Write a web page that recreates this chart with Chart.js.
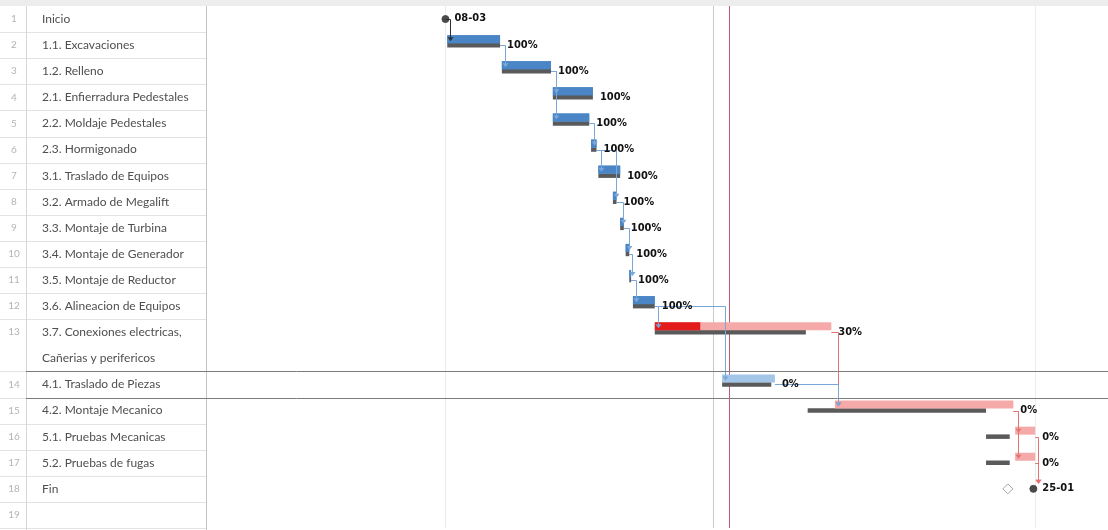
<!DOCTYPE html>
<html>
<head>
<meta charset="utf-8">
<script src="https://cdn.jsdelivr.net/npm/chart.js@4/dist/chart.umd.min.js"></script>
<style>
  html, body { margin: 0; padding: 0; background: #fff; }
  #wrap { width: 1108px; height: 530px; }
</style>
</head>
<body>
<div id="wrap"><canvas id="gantt" width="1108" height="530"></canvas></div>
<script>
// rows of the task table (row 13 wraps onto a second line)
const rowNumbers = ['1','2','3','4','5','6','7','8','9','10','11','12','13','','14','15','16','17','18','19'];
const taskNames = ['Inicio','1.1. Excavaciones','1.2. Relleno','2.1. Enfierradura Pedestales','2.2. Moldaje Pedestales',
  '2.3. Hormigonado','3.1. Traslado de Equipos','3.2. Armado de Megalift','3.3. Montaje de Turbina',
  '3.4. Montaje de Generador','3.5. Montaje de Reductor','3.6. Alineacion de Equipos','3.7. Conexiones electricas,',
  'Cañerias y perifericos','4.1. Traslado de Piezas','4.2. Montaje Mecanico','5.1. Pruebas Mecanicas',
  '5.2. Pruebas de fugas','Fin',''];

// days counted from the project start (08-03)
const startDay    = [null,1,31,59,59,80,84,92,96,99,101,103,115,null,152,214,313,313,null,null];
const endDay      = [null,30,58,81,79,83,96,94,98,101,102,115,212,null,181,312,324,324,null,null];
const doneEnd     = [null,30,58,81,79,83,96,94,98,101,102,115,140,null,null,null,null,null,null,null];
const baseStart   = [null,1,31,59,59,80,84,92,96,99,101,103,115,null,152,199,297,297,null,null];
const baseEnd     = [null,30,58,81,79,83,96,94,98,101,102,115,198,null,179,297,310,310,null,null];
const percentText = [null,'100%','100%','100%','100%','100%','100%','100%','100%','100%','100%','100%','30%',null,'0%','0%','0%','0%',null,null];
const critical    = [false,false,false,false,false,false,false,false,false,false,false,false,true,false,false,true,true,true,true,false];
const milestoneDay   = [0,null,null,null,null,null,null,null,null,null,null,null,null,null,null,null,null,null,323,null];
const milestoneText  = ['08-03',null,null,null,null,null,null,null,null,null,null,null,null,null,null,null,null,null,'25-01',null];
const baseMilestoneDay = [null,null,null,null,null,null,null,null,null,null,null,null,null,null,null,null,null,null,309,null];
const links = [[0,1],[1,2],[2,3],[2,4],[4,5],[5,6],[5,7],[7,8],[8,9],[9,10],[10,11],[11,12],[11,14],
  [12,15],[14,15],[15,16],[15,17],[16,18],[17,18]];
const timescaleDays = [0, 147, 324];
const statusDay = 156;
const selectedRow = 14;

const BLUE = '#4a86c6', LIGHT_BLUE = '#a3c6e8', PINK = '#f5aaa9', RED = '#e31b1b', BASE = '#5a5a5a';

const mainColors = taskNames.map((t, i) =>
  percentText[i] === '100%' ? BLUE : (critical[i] ? PINK : LIGHT_BLUE));

const ganttPlugin = {
  id: 'gantt',
  beforeDraw(chart) {
    const { ctx, chartArea: a, scales: { y } } = chart;
    const h = y.getPixelForValue(1) - y.getPixelForValue(0);
    ctx.save();
    ctx.fillStyle = '#fff';
    ctx.fillRect(0, 0, chart.width, chart.height);
    ctx.fillStyle = '#ededed';
    ctx.fillRect(0, 0, chart.width, a.top);

    ctx.lineWidth = 1;
    ctx.strokeStyle = '#e3e3e3';
    taskNames.forEach((t, i) => {
      if (i === 12) return;
      const yb = Math.round(y.getPixelForValue(i) + h / 2) + 0.5;
      ctx.beginPath(); ctx.moveTo(0, yb); ctx.lineTo(a.left, yb); ctx.stroke();
    });
    ctx.strokeStyle = '#d6d6d6';
    ctx.beginPath(); ctx.moveTo(26.5, a.top); ctx.lineTo(26.5, chart.height); ctx.stroke();
    ctx.strokeStyle = '#c4c4c4';
    ctx.beginPath(); ctx.moveTo(a.left - 0.5, a.top); ctx.lineTo(a.left - 0.5, chart.height); ctx.stroke();

    ctx.textBaseline = 'middle';
    taskNames.forEach((t, i) => {
      const yc = y.getPixelForValue(i);
      ctx.font = '10px Lato, sans-serif';
      ctx.fillStyle = '#b4b4b4';
      ctx.textAlign = 'center';
      ctx.fillText(rowNumbers[i], 14, yc);
      ctx.font = '12px Lato, sans-serif';
      ctx.fillStyle = '#4f4f4f';
      ctx.textAlign = 'left';
      ctx.fillText(t, 42, yc);
    });
    ctx.restore();
  },
  beforeDatasetsDraw(chart) {
    const { ctx, chartArea: a, scales: { x } } = chart;
    const sx = Math.round(x.getPixelForValue(statusDay)) + 0.5;
    ctx.save();
    ctx.strokeStyle = '#c25a74';
    ctx.lineWidth = 1;
    ctx.beginPath(); ctx.moveTo(sx, a.top); ctx.lineTo(sx, a.bottom); ctx.stroke();
    ctx.restore();
  },
  afterDatasetsDraw(chart) {
    const { ctx, scales: { x, y } } = chart;
    ctx.save();
    ctx.lineWidth = 1;
    links.forEach(([p, s]) => {
      const fromMs = milestoneDay[p] != null;
      const toMs = milestoneDay[s] != null;
      const x1 = x.getPixelForValue(fromMs ? milestoneDay[p] : endDay[p]);
      const y1 = Math.round(y.getPixelForValue(p)) + 0.5;
      const xs = x.getPixelForValue(toMs ? milestoneDay[s] : startDay[s]);
      const xv = Math.round(Math.max(x1 + 3, xs + 3)) + 0.5;
      const y2 = y.getPixelForValue(s) - (toMs ? 5 : 4);
      const col = fromMs ? '#2f2f2f' : (critical[p] ? '#e27474' : '#7aa6d8');
      ctx.strokeStyle = col;
      ctx.fillStyle = col;
      ctx.beginPath();
      ctx.moveTo(x1, y1); ctx.lineTo(xv, y1); ctx.lineTo(xv, y2 - 3);
      ctx.stroke();
      ctx.beginPath();
      ctx.moveTo(xv - 3, y2 - 4); ctx.lineTo(xv + 3, y2 - 4); ctx.lineTo(xv, y2); ctx.closePath();
      ctx.fill();
    });

    ctx.fillStyle = '#111';
    ctx.textBaseline = 'middle';
    ctx.textAlign = 'left';
    ctx.font = 'bold 11px "Liberation Sans Narrow", "DejaVu Sans Condensed", sans-serif';
    percentText.forEach((t, i) => {
      if (!t) return;
      ctx.fillText(t, x.getPixelForValue(endDay[i]) + 7, y.getPixelForValue(i));
    });
    milestoneText.forEach((t, i) => {
      if (!t) return;
      ctx.fillText(t, x.getPixelForValue(milestoneDay[i]) + 9, y.getPixelForValue(i) - 1);
    });
    ctx.restore();
  },
  afterDraw(chart) {
    const { ctx, scales: { y } } = chart;
    const h = y.getPixelForValue(1) - y.getPixelForValue(0);
    const yc = y.getPixelForValue(selectedRow);
    ctx.save();
    ctx.strokeStyle = '#7c7c7c';
    ctx.lineWidth = 1;
    [yc - h / 2, yc + h / 2].forEach(v => {
      const yy = Math.round(v) + 0.5;
      ctx.beginPath(); ctx.moveTo(26, yy); ctx.lineTo(chart.width, yy); ctx.stroke();
    });
    ctx.restore();
  }
};

new Chart(document.getElementById('gantt'), {
  type: 'bar',
  data: {
    labels: taskNames,
    datasets: [
      {
        label: 'Progreso',
        stack: 'plan',
        barPercentage: 8 / 6,
        data: taskNames.map((t, i) => doneEnd[i] == null ? null : [startDay[i], doneEnd[i]]),
        backgroundColor: taskNames.map((t, i) => critical[i] ? RED : BLUE),
      },
      {
        label: 'Tarea',
        stack: 'plan',
        barPercentage: 8 / 6,
        data: taskNames.map((t, i) => startDay[i] == null ? null : [startDay[i], endDay[i]]),
        backgroundColor: mainColors,
      },
      {
        label: 'Línea base',
        stack: 'base',
        barPercentage: 0.75,
        data: taskNames.map((t, i) => baseStart[i] == null ? null : [baseStart[i], baseEnd[i]]),
        backgroundColor: BASE,
      },
      {
        // empty slot above the task bars so they sit slightly low in the row
        label: '',
        stack: 'pad',
        order: 5,
        data: taskNames.map(() => null),
      },
      {
        type: 'line',
        label: 'Hito',
        showLine: false,
        data: taskNames.map((t, i) => milestoneDay[i] == null ? null : { x: milestoneDay[i], y: t }).filter(Boolean),
        pointStyle: 'circle',
        pointRadius: 3.5,
        pointBackgroundColor: '#4a4a4a',
        pointBorderColor: '#4a4a4a',
      },
      {
        type: 'line',
        label: 'Hito base',
        showLine: false,
        data: taskNames.map((t, i) => baseMilestoneDay[i] == null ? null : { x: baseMilestoneDay[i], y: t }).filter(Boolean),
        pointStyle: 'rectRot',
        pointRadius: 5,
        pointBackgroundColor: '#ffffff',
        pointBorderColor: '#a8a8a8',
        pointBorderWidth: 1,
      },
    ],
  },
  options: {
    indexAxis: 'y',
    responsive: false,
    animation: false,
    layout: { autoPadding: false, padding: { left: 0, right: 0, top: 0, bottom: 2 } },
    datasets: { bar: { categoryPercentage: 0.69 } },
    plugins: {
      legend: { display: false },
      tooltip: { enabled: false },
    },
    scales: {
      x: {
        type: 'linear',
        position: 'top',
        stacked: false,
        min: -131,
        max: 364,
        afterBuildTicks: (scale) => {
          scale.ticks = timescaleDays.map(v => ({ value: v }));
        },
        afterFit: (scale) => { scale.height = 6; },
        ticks: { display: false },
        border: { display: false },
        grid: {
          drawTicks: false,
          color: (c) => c.tick && c.tick.value === 147 ? '#c9c9c9' : '#ececec',
        },
      },
      y: {
        type: 'category',
        offset: true,
        afterFit: (scale) => { scale.width = 207; },
        ticks: { display: false },
        border: { display: false },
        grid: { display: false },
      },
    },
  },
  plugins: [ganttPlugin],
});
</script>
</body>
</html>
